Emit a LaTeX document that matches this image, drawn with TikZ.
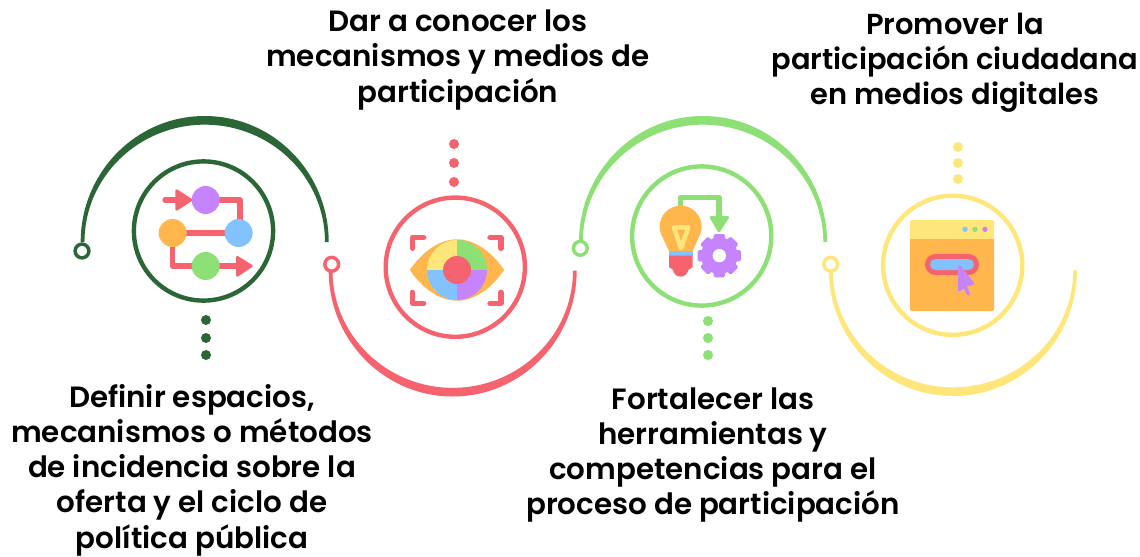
\documentclass[tikz,border=0pt]{standalone}
\usepackage{fontspec}
\setmainfont{Poppins}
\newfontfamily\lab{Poppins SemiBold}
\definecolor{cred}{HTML}{F5646E}
\definecolor{cyel}{HTML}{FFE67B}
\definecolor{cgrn}{HTML}{8CE076}
\definecolor{cdrk}{HTML}{2A6636}
\definecolor{corg}{HTML}{FFB74D}
\definecolor{cblu}{HTML}{82C3FF}
\definecolor{cpur}{HTML}{C583FC}
\newcommand\bowshape[4]{% centre x, base y, end angle, colour
 \fill[#4] ({#1-124},#2) arc[start angle=180,end angle=#3,x radius=93pt,y radius=94.5pt]
   -- ({#1+120.3},#2) arc[start angle=#3,end angle=180,x radius=90.2pt,y radius=88pt] -- cycle;}
\tikzset{
 lbl/.style={inner sep=0pt,align=center,font=\lab\fontsize{22}{26.4}\selectfont,text=black},
 lbls/.style={inner sep=0pt,align=center,font=\lab\fontsize{21.7}{26.4}\selectfont,text=black},
 ringc/.style={line width=3.3pt},
 endr/.style={line width=2.6pt,fill=white},
 icon/.style={x=0.25pt,y=-0.25pt},
 seg/.style={line width=4pt,line join=round,line cap=round},
}
\begin{document}
\begin{tikzpicture}[x=0.75pt,y=-0.75pt]
\useasboundingbox (0,0) rectangle (1140,557);
\fill[white] (0,0) rectangle (1140,557);
% arcs
\bowshape{204.7}{242}{0}{cdrk}
\bowshape{452.7}{270.5}{360}{cred}
\bowshape{703}{242}{0}{cgrn}
\bowshape{953}{270}{360}{cyel}
\draw[endr,draw=cdrk] (82,251) circle[radius=6.9];
\draw[endr,draw=cred] (331.7,264.3) circle[radius=6.9];
\draw[endr,draw=cgrn] (580.3,248.3) circle[radius=6.9];
\draw[endr,draw=cyel] (830.7,264.3) circle[radius=6.9];
% rings
\draw[ringc,cdrk] (203.5,231) circle[radius=69.6];
\draw[ringc,cred] (455.3,267.2) circle[radius=69.6];
\draw[ringc,cgrn] (701.7,236) circle[radius=69.6];
\draw[ringc,cyel] (952.7,265.3) circle[radius=69.6];
% dots
\foreach \x/\y/\c in {206/320/cdrk,206/338/cdrk,206/355/cdrk,
  454/144/cred,454/163/cred,454/182/cred,
  708/321/cgrn,708/338/cgrn,708/355/cgrn,
  958/147/cyel,958/163/cyel,958/179/cyel}
  \fill[\c] (\x,\y) circle[radius=5];
% icon 1
\begin{scope}[shift={(130,160)},icon]
\draw[seg,cred] (105,120)--(140,120);
\fill[cred,draw=cred,line width=2pt,line join=round] (140,92)--(183,120)--(140,148)--cycle;
\draw[seg,cred] (227,120)--(330,120)--(330,219);
\draw[seg,cred] (128,219)--(326,219);
\draw[seg,cred] (128,219)--(128,318)--(325,318);
\fill[cred,draw=cred,line width=2pt,line join=round] (322,292)--(364,318)--(322,346)--cycle;
\fill[cpur] (227,120) circle[radius=42];
\fill[cblu] (326,219) circle[radius=42];
\fill[corg] (128,219) circle[radius=42];
\fill[cgrn] (227,318) circle[radius=42];
\end{scope}
% icon 2
\begin{scope}[shift={(385,195)},icon]
\fill[corg,draw=corg,line width=1pt,line join=round] (77,225) .. controls (115,170) and (165,135) .. (216,135) .. controls (267,135) and (317,170) .. (355,225) .. controls (317,280) and (267,315) .. (216,315) .. controls (165,315) and (115,280) .. (77,225) -- cycle;
\fill[cyel] (216,225) -- (126,225) arc[start angle=180,end angle=90,radius=22.5pt] -- cycle;
\fill[cgrn] (216,225) -- (216,135) arc[start angle=90,end angle=0,radius=22.5pt] -- cycle;
\fill[cblu] (216,225) -- (126,225) arc[start angle=180,end angle=270,radius=22.5pt] -- cycle;
\fill[cpur] (216,225) -- (216,315) arc[start angle=270,end angle=360,radius=22.5pt] -- cycle;
\fill[cred] (216,225) circle[radius=42];
\draw[seg,cred] (83,160)--(83,127)--(116,127);
\draw[seg,cred] (315,127)--(348,127)--(348,160);
\draw[seg,cred] (83,292)--(83,325)--(116,325);
\draw[seg,cred] (315,325)--(348,325)--(348,292);
\end{scope}
% icon 3
\begin{scope}[shift={(630,165)},icon]
\draw[seg,cgrn] (152,125)--(152,97)--(267,97)--(267,160);
\fill[cgrn,draw=cgrn,line width=2pt,line join=round] (243,157)--(293,157)--(267,198)--cycle;
\fill[corg] (152,185) circle[radius=63];
\fill[corg] (100,222)--(117,258)--(188,258)--(204,222)--cycle;
\fill[cblu] (117,258) rectangle (188,272);
\fill[cred] (152,312) circle[radius=23];
\fill[cred] (117,272)--(188,272)--(188,306)--(175,315)--(130,315)--(117,306)--cycle;
\draw[cyel,line width=3.3pt,line join=round] (132,187)--(175,187)--(153,250)--cycle;
\begin{scope}[shift={(268,272)}]
\foreach \a in {0,45,...,315}
  \fill[cpur,rotate=\a,rounded corners=1.2pt] (-17,-65) rectangle (17,-35);
\fill[cpur] (0,0) circle[radius=55];
\fill[white] (0,0) circle[radius=20];
\end{scope}
\end{scope}
% icon 4
\begin{scope}[shift={(880,195)},icon]
\fill[corg,rounded corners=1.5pt] (90,120) rectangle (342,348);
\fill[cyel,rounded corners=1.5pt] (90,75) rectangle (342,140);
\fill[corg] (90,131) rectangle (342,145);
\fill[cblu] (255,103) circle[radius=8];
\fill[cgrn] (285,103) circle[radius=8];
\fill[cpur] (315,103) circle[radius=8];
\fill[cred,rounded corners=7.8pt] (135,177) rectangle (297,240);
\fill[cblu,rounded corners=4.1pt] (150,192) rectangle (282,225);
\draw[cpur,line width=2.2pt,line join=round,fill=cpur] (238,215)--(278,265)--(254,272)--(238,285)--cycle;
\draw[cpur,line width=2.6pt,line cap=round] (252,268)--(265,297);
\end{scope}
% labels
\node[lbl] (t1) at (192,470) {Definir espacios,\\mecanismos o métodos\\de incidencia sobre la\\oferta y el ciclo de\\política pública};
\node[lbl] (t2) at (458,60) {Dar a conocer los\\mecanismos y medios de\\participación};
\node[lbl] (t3) at (713,455) {Fortalecer las\\herramientas y\\competencias para el\\proceso de participación};
\node[lbls] (t4) at (955,63) {Promover la\\participación ciudadana\\en medios digitales};
\end{tikzpicture}
\end{document}
